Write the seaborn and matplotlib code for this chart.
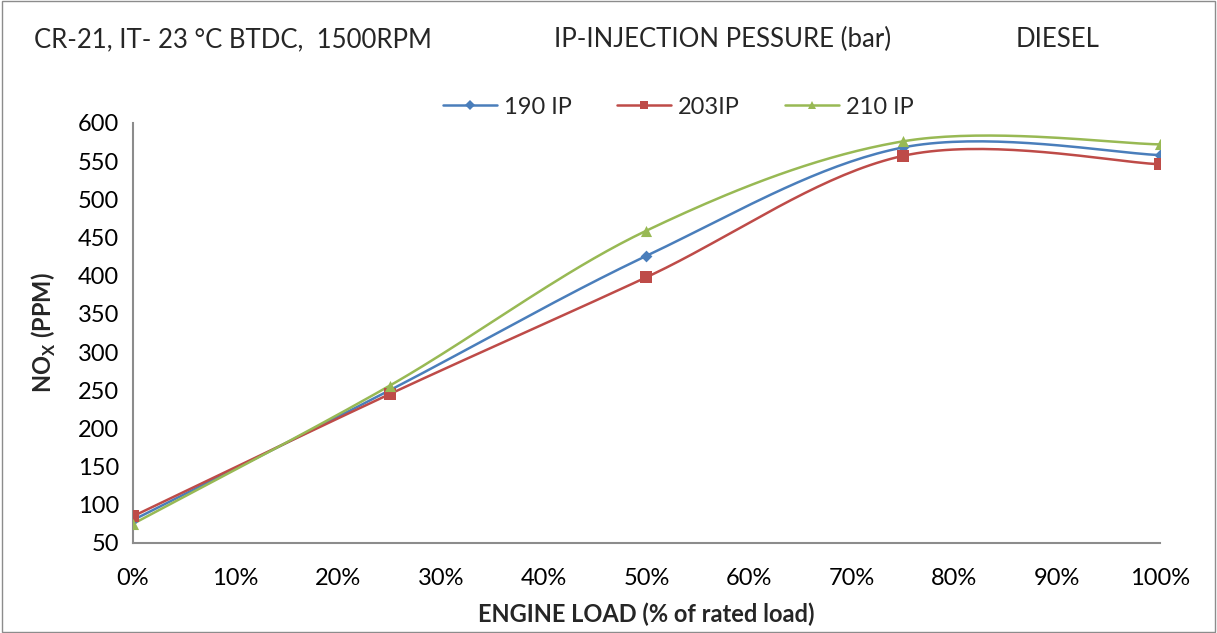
import numpy as np
import pandas as pd
import matplotlib
matplotlib.use("Agg")
import matplotlib.pyplot as plt
from matplotlib.lines import Line2D
import seaborn as sns

load = [0, 25, 50, 75, 100]
nox_190 = [80, 250, 426, 568, 558]
nox_203 = [85, 245, 398, 557, 546]
nox_210 = [75, 256, 459, 576, 572]
series_names = ["190 IP", "203IP", "210 IP"]
colors = ["#4A7EBB", "#BE4B48", "#98B954"]
markers = ["D", "s", "^"]
msizes = [6, 8, 8]

sns.set_style("white")
plt.rcParams['font.family'] = ['Lato', 'DejaVu Sans']

def smooth(x, y, n=40):
    x = np.asarray(x, float); y = np.asarray(y, float)
    P = np.column_stack([x, y])
    out = []
    for i in range(len(P) - 1):
        p0 = P[i]; p3 = P[i + 1]
        pm = P[i - 1] if i > 0 else P[i]
        pp = P[i + 2] if i + 2 < len(P) else P[i + 1]
        c1 = p0 + (p3 - pm) / 6.0
        c2 = p3 - (pp - p0) / 6.0
        t = np.linspace(0, 1, n)[:, None]
        seg = (1 - t) ** 3 * p0 + 3 * (1 - t) ** 2 * t * c1 + 3 * (1 - t) * t ** 2 * c2 + t ** 3 * p3
        out.append(seg if i == 0 else seg[1:])
    s = np.vstack(out)
    return s[:, 0], s[:, 1]

fig = plt.figure(figsize=(12.17, 6.33), dpi=100)
ax = fig.add_axes([0.1093, 0.1422, 0.8437, 0.6635])

handles = []
for name, vals, c, m, ms in zip(series_names, [nox_190, nox_203, nox_210], colors, markers, msizes):
    sx, sy = smooth(load, vals)
    df = pd.DataFrame({"x": sx, "y": sy})
    sns.lineplot(data=df, x="x", y="y", sort=False, color=c, linewidth=1.8, ax=ax, estimator=None)
    pts = pd.DataFrame({"x": load, "y": vals})
    sns.scatterplot(data=pts, x="x", y="y", color=c, marker=m, s=ms ** 2, edgecolor=c, linewidth=0, ax=ax, zorder=5)
    handles.append(Line2D([], [], color=c, lw=1.8, marker=m, markersize=ms * 0.8, markeredgewidth=0))

ax.set_xlim(0, 100)
ax.set_ylim(50, 600)
ax.set_xticks(range(0, 101, 10))
ax.set_xticklabels([f"{v}%" for v in range(0, 101, 10)])
ax.set_yticks(range(50, 601, 50))
for sp in ["top", "right"]:
    ax.spines[sp].set_visible(False)
for sp in ["left", "bottom"]:
    ax.spines[sp].set_color("#8C8C8C")
    ax.spines[sp].set_linewidth(1.5)
ax.tick_params(axis="both", which="major", direction="out", length=6, width=1.5, color="#8C8C8C", labelsize=17, labelcolor="black", pad=4)
ax.tick_params(axis="x", pad=12)
ax.set_xlabel("ENGINE LOAD (% of rated load)", fontsize=17, fontweight="bold", labelpad=10)
ax.set_ylabel("NO$_\\mathregular{X}$ (PPM)", fontsize=17, fontweight="bold", labelpad=14)
ax.set_facecolor("white")

leg = ax.legend(handles, series_names, loc="center", bbox_to_anchor=(0.531, 1.038), ncol=3, frameon=False, fontsize=17, handlelength=2.3, columnspacing=1.9, handletextpad=0.3)

fig.text(0.028, 0.937, "CR-21, IT- 23 °C BTDC,  1500RPM", fontsize=18.5, va="center")
fig.text(0.594, 0.937, "IP-INJECTION PESSURE (bar)", fontsize=18.5, va="center", ha="center")
fig.text(0.869, 0.937, "DIESEL", fontsize=18.5, va="center", ha="center")

fig.patches.append(plt.Rectangle((0.002, 0.002), 0.996, 0.996, transform=fig.transFigure, fill=False, edgecolor="#8C8C8C", linewidth=1))

fig.savefig("out.png", dpi=100, facecolor="white")
